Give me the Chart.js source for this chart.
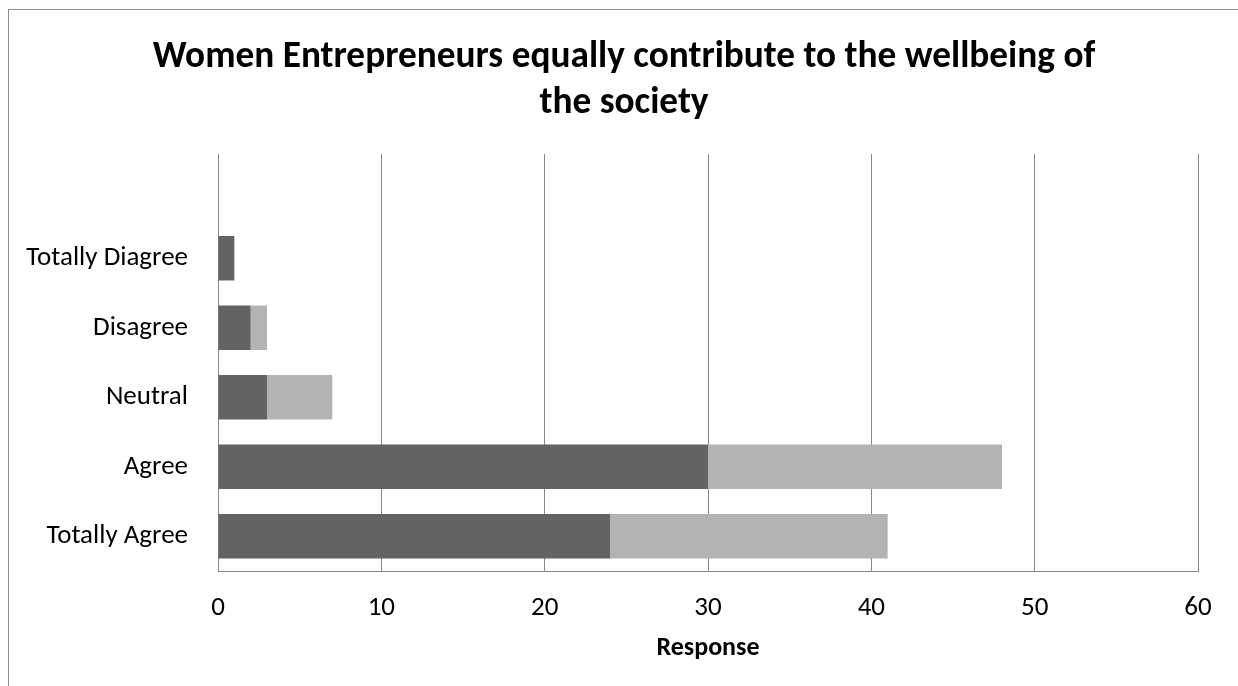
<!DOCTYPE html>
<html>
<head>
<meta charset="utf-8">
<title>Women Entrepreneurs equally contribute to the wellbeing of the society</title>
<script src="https://cdn.jsdelivr.net/npm/chart.js@4/dist/chart.umd.min.js"></script>
<style>
  html, body { margin: 0; padding: 0; background: #ffffff; }
  #wrap { width: 1238px; height: 686px; }
</style>
</head>
<body>
<div id="wrap"><canvas id="chart" width="1238" height="686"></canvas></div>
<script>
// Response categories, top to bottom (the first slot is left empty)
const categories = ['', 'Totally Diagree', 'Disagree', 'Neutral', 'Agree', 'Totally Agree'];
// Stacked response counts
const series1 = [null, 1, 2, 3, 30, 24];
const series2 = [null, 0, 1, 4, 18, 17];
// Value axis
const xMin = 0;
const xMax = 60;
const xStep = 10;

const titleLines = ['Women Entrepreneurs equally contribute to the wellbeing of', 'the society'];
const axisTitle = 'Response';

const FONT = 'Carlito, Lato, "Open Sans", sans-serif';
const GRID = '#878787';

// Outer chart frame
const framePlugin = {
  id: 'frame',
  beforeDraw(chart) {
    const ctx = chart.ctx;
    ctx.save();
    ctx.fillStyle = '#ffffff';
    ctx.fillRect(0, 0, chart.width, chart.height);
    ctx.strokeStyle = '#8c8c8c';
    ctx.lineWidth = 1;
    ctx.strokeRect(8.5, 9.5, chart.width + 20, chart.height + 20);
    ctx.restore();
  }
};

// Two-line chart title, centred on the frame
const chartTitle = {
  id: 'chartTitle',
  afterDraw(chart, args, opts) {
    const ctx = chart.ctx;
    ctx.save();
    ctx.fillStyle = '#000000';
    ctx.font = 'bold 37.3px ' + FONT;
    ctx.textAlign = 'center';
    ctx.textBaseline = 'alphabetic';
    opts.lines.forEach((line, i) => ctx.fillText(line, opts.x, opts.baseline + i * opts.lineGap));
    ctx.restore();
  }
};

new Chart(document.getElementById('chart'), {
  type: 'bar',
  data: {
    labels: categories,
    datasets: [
      { label: 'Series 1', data: series1, backgroundColor: '#636363', borderWidth: 0 },
      { label: 'Series 2', data: series2, backgroundColor: '#b3b3b3', borderWidth: 0 }
    ]
  },
  options: {
    indexAxis: 'y',
    responsive: false,
    animation: false,
    layout: { padding: { left: 8, right: 40, top: 154, bottom: 0 } },
    datasets: { bar: { categoryPercentage: 1.0, barPercentage: 0.64 } },
    plugins: {
      legend: { display: false },
      tooltip: { enabled: false },
      title: { display: false },
      chartTitle: { lines: titleLines, x: 624, baseline: 67, lineGap: 46 }
    },
    scales: {
      x: {
        type: 'linear',
        stacked: true,
        min: xMin,
        max: xMax,
        ticks: {
          stepSize: xStep,
          color: '#000000',
          padding: 21,
          font: { family: FONT, size: 27 }
        },
        grid: { color: GRID, lineWidth: 1, drawTicks: false },
        border: { display: true, color: GRID, width: 1 },
        title: {
          display: true,
          text: axisTitle,
          color: '#000000',
          font: { family: FONT, size: 26, weight: 'bold' },
          padding: { top: 0, bottom: 22 }
        },
        afterFit(scale) { scale.height = 115; }
      },
      y: {
        type: 'category',
        stacked: true,
        ticks: {
          color: '#000000',
          padding: 30,
          font: { family: FONT, size: 27 }
        },
        grid: { display: false, drawTicks: false },
        border: { display: true, color: GRID, width: 1 },
        afterFit(scale) { scale.width = 210; }
      }
    }
  },
  plugins: [framePlugin, chartTitle]
});
</script>
</body>
</html>
